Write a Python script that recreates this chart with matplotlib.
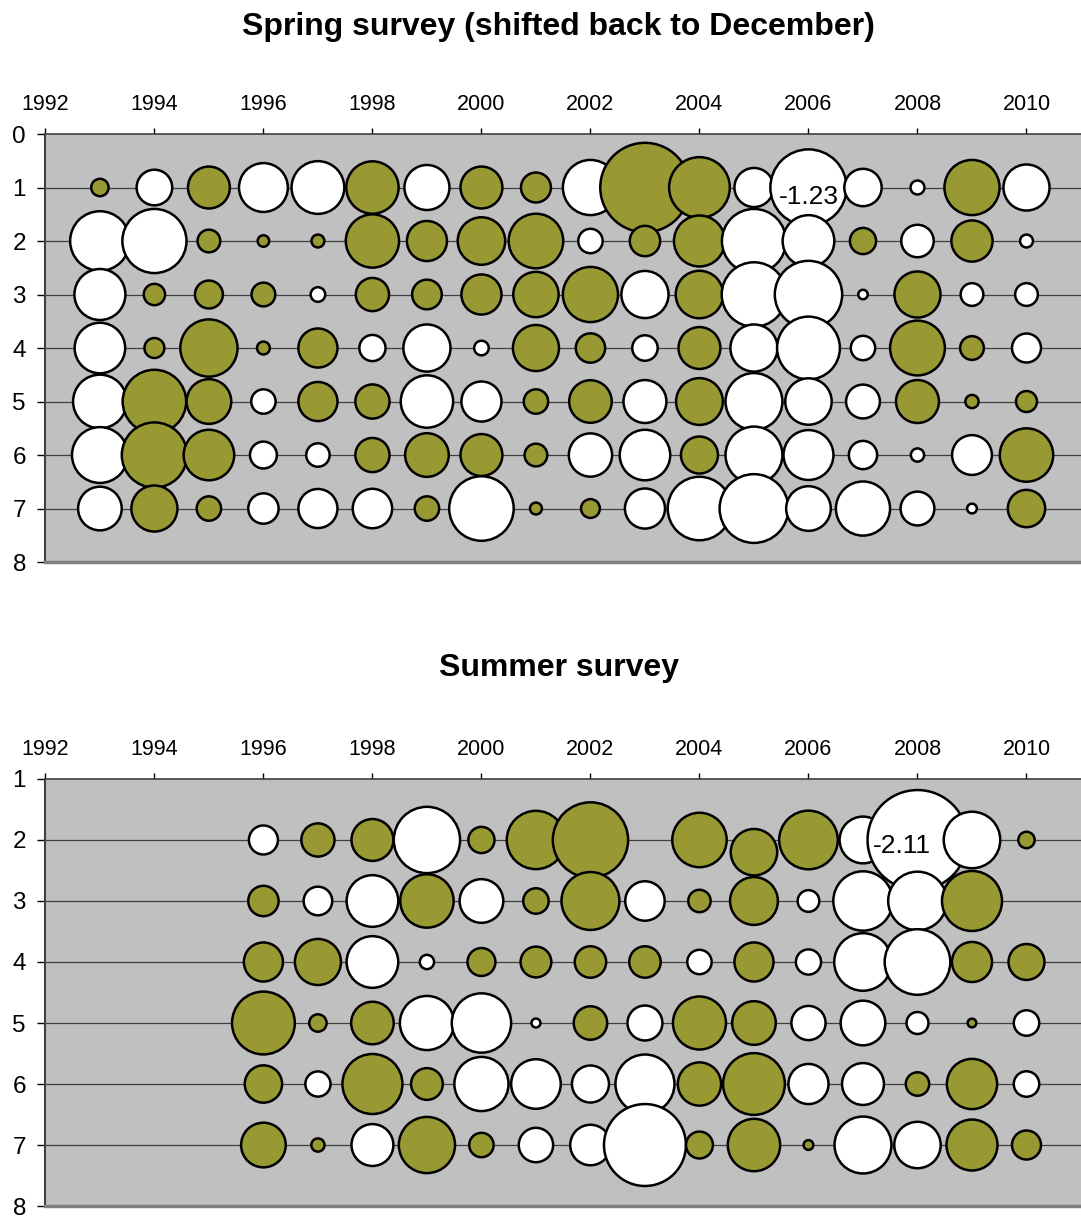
import numpy as np
import matplotlib.pyplot as plt

plt.rcParams['font.family'] = ['Liberation Sans', 'DejaVu Sans']

OLIVE = "#999933"
PLOT_BG = "#c0c0c0"
GRID = "#404040"
SIZE_K = 49.5   # marker diameter (pt) for a residual of magnitude 1

# Spring survey residuals: rows = age 1..7, columns = 1993..2010
spring_years = list(range(1993, 2011))
spring_ages = [1, 2, 3, 4, 5, 6, 7]
spring_resid = [
    [0.064, -0.268, 0.371, -0.505, -0.588, 0.58, -0.429, 0.371, 0.19, -0.643, 1.69, 0.78, -0.323, -1.23, -0.295, -0.041, 0.643, -0.449],
    [-0.75, -0.87, 0.109, 0.028, 0.035, 0.6, 0.34, 0.477, 0.63, -0.126, 0.195, 0.55, -0.87, -0.565, 0.145, -0.223, 0.359, -0.035],
    [-0.55, 0.096, 0.165, 0.119, -0.045, 0.233, 0.186, 0.34, 0.435, 0.643, -0.47, 0.477, -0.88, -0.96, -0.019, 0.449, -0.109, -0.109],
    [-0.54, 0.084, 0.693, 0.035, 0.323, -0.145, -0.47, -0.045, 0.449, 0.182, -0.137, 0.371, -0.47, -0.835, -0.126, 0.635, 0.119, -0.178],
    [-0.61, 0.853, 0.422, -0.126, 0.323, 0.247, -0.58, -0.34, 0.126, 0.383, -0.39, 0.463, -0.685, -0.456, -0.242, 0.39, 0.037, 0.093],
    [-0.66, 0.9, 0.54, -0.153, -0.116, 0.247, 0.403, 0.371, 0.109, -0.396, -0.54, 0.29, -0.685, -0.527, -0.169, -0.037, -0.335, 0.603],
    [-0.403, 0.449, 0.126, -0.195, -0.323, -0.329, 0.126, -0.88, 0.03, 0.075, -0.34, -0.853, -1.0, -0.422, -0.62, -0.242, -0.02, 0.295],
]

# Summer survey residuals: rows = age 2..7, columns = 1996..2010
summer_years = list(range(1996, 2011))
summer_ages = [2, 3, 4, 5, 6, 7]
summer_resid = [
    [-0.178, 0.233, 0.371, -0.93, 0.145, 0.72, 1.2, None, 0.627, 0.456, 0.727, -0.463, -2.11, -0.676, 0.057],
    [0.195, -0.173, -0.564, 0.603, -0.403, 0.137, 0.71, -0.329, 0.106, 0.484, -0.099, -0.745, -0.727, 0.762, None],
    [0.323, 0.449, -0.564, -0.043, 0.165, 0.2, 0.209, 0.209, -0.126, 0.323, -0.134, -0.70, -0.91, 0.34, 0.273],
    [0.835, 0.064, 0.383, -0.62, -0.745, -0.017, 0.237, -0.258, 0.595, 0.403, -0.247, -0.422, -0.102, 0.016, -0.137],
    [0.295, -0.134, 0.762, 0.213, -0.62, -0.52, -0.29, -0.736, 0.396, 0.807, -0.34, -0.371, 0.116, 0.534, -0.137],
    [0.422, 0.037, -0.371, 0.668, 0.126, -0.25, -0.347, -1.42, 0.153, 0.58, 0.02, -0.685, -0.456, 0.55, 0.178],
]
# one summer point sits slightly below its age line
summer_y_shift = {(2005, 2): 0.2}

year_ticks = list(range(1992, 2011, 2))


def draw_panel(ax, years, ages, resid, ylim, shifts=None, labelled=(), label_offset=(0, 0)):
    shifts = shifts or {}
    ax.set_facecolor(PLOT_BG)
    for a in range(int(ylim[1]) + 1, int(ylim[0])):
        ax.axhline(a, color=GRID, lw=0.9, zorder=1)

    xs, ys, sizes, colors = [], [], [], []
    for age, row in zip(ages, resid):
        for yr, v in zip(years, row):
            if v is None:
                continue
            xs.append(yr)
            ys.append(age + shifts.get((yr, age), 0))
            sizes.append((SIZE_K * np.sqrt(abs(v))) ** 2)
            colors.append(OLIVE if v > 0 else "white")
    ax.scatter(xs, ys, s=sizes, c=colors, edgecolors="black", linewidths=1.8, zorder=2)

    # value labels on the extreme bubbles
    for yr, age in labelled:
        v = resid[ages.index(age)][years.index(yr)]
        ax.annotate(f"{v:.2f}", (yr, age), xytext=label_offset, textcoords="offset points",
                    ha="center", va="center", fontsize=19, zorder=3)

    ax.set_xlim(1992, 2011)
    ax.set_ylim(*ylim)
    ax.set_xticks(year_ticks)
    ax.set_yticks(range(int(ylim[1]), int(ylim[0]) + 1))
    ax.xaxis.tick_top()
    ax.tick_params(axis="x", direction="out", length=4, width=1, pad=9.5, labelsize=15.5, colors="black")
    ax.tick_params(axis="y", direction="out", length=6, width=1, pad=8, labelsize=17.5)
    ax.spines["right"].set_visible(False)
    ax.spines["top"].set_color(GRID)
    ax.spines["top"].set_linewidth(1.2)
    ax.spines["left"].set_color(GRID)
    ax.spines["left"].set_linewidth(1.5)
    ax.spines["bottom"].set_color("#808080")
    ax.spines["bottom"].set_linewidth(2.5)


fig = plt.figure(figsize=(10.81, 12.16), dpi=100)

ax_spring = fig.add_axes([0.042, 0.5378, 0.958, 0.352])
draw_panel(ax_spring, spring_years, spring_ages, spring_resid, (8, 0),
           labelled=[(2006, 1)], label_offset=(0, -7))

ax_summer = fig.add_axes([0.042, 0.0082, 0.958, 0.3512])
draw_panel(ax_summer, summer_years, summer_ages, summer_resid, (8, 1), shifts=summer_y_shift,
           labelled=[(2008, 2)], label_offset=(-11, -4))

fig.text(0.517, 0.978, "Spring survey (shifted back to December)", ha="center", va="center",
         fontsize=23, fontweight="bold")
fig.text(0.517, 0.4507, "Summer survey", ha="center", va="center", fontsize=23, fontweight="bold")

fig.savefig("out.png", dpi=100)
